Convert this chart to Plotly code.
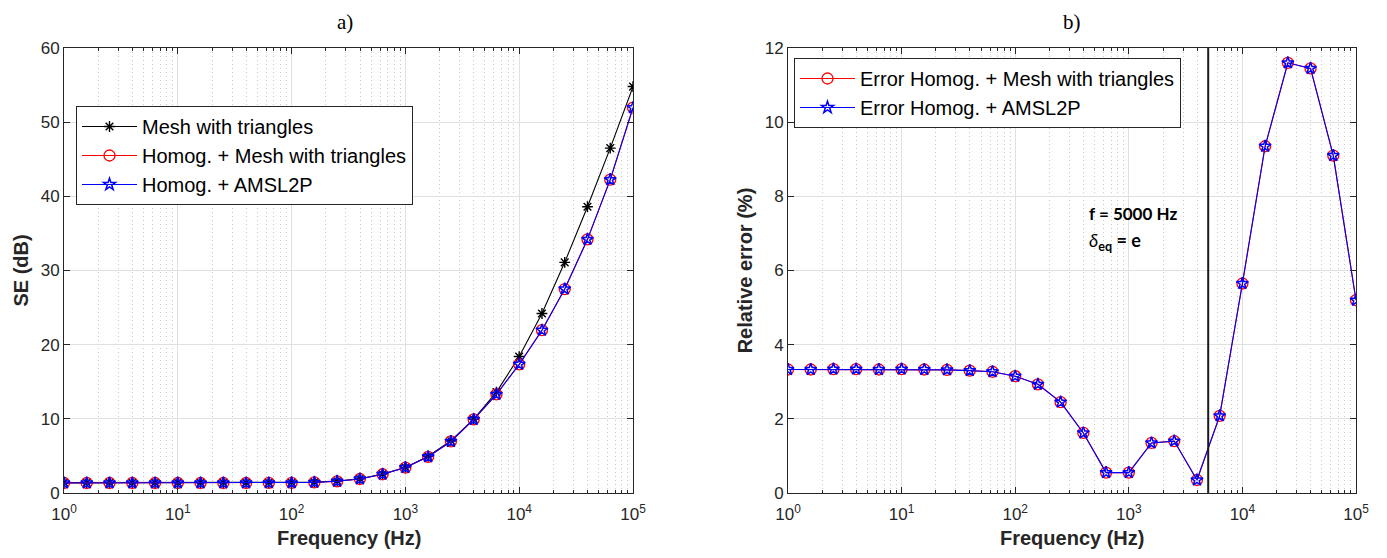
import plotly.graph_objects as go

# ---- data ----
freq = [1, 1.585, 2.512, 3.981, 6.310, 10, 15.85, 25.12, 39.81, 63.10,
        100, 158.5, 251.2, 398.1, 631.0, 1000, 1585, 2512, 3981, 6310,
        10000, 15849, 25119, 39811, 63096, 100000]

se_mesh = [1.40, 1.40, 1.40, 1.40, 1.40, 1.40, 1.40, 1.40, 1.40, 1.41,
           1.42, 1.47, 1.62, 1.92, 2.55, 3.45, 4.95, 7.05, 9.95, 13.6,
           18.4, 24.2, 31.1, 38.6, 46.5, 54.8]
se_homog_mesh = [1.35, 1.35, 1.35, 1.35, 1.35, 1.35, 1.35, 1.35, 1.35, 1.36,
                 1.37, 1.43, 1.58, 1.89, 2.53, 3.43, 4.88, 6.95, 9.92, 13.3,
                 17.35, 21.95, 27.5, 34.2, 42.25, 51.95]
se_homog_amsl = se_homog_mesh[:]

err_mesh = [3.33, 3.33, 3.34, 3.34, 3.33, 3.34, 3.33, 3.32, 3.30, 3.27,
            3.15, 2.93, 2.45, 1.62, 0.55, 0.55, 1.35, 1.40, 0.35, 2.08,
            5.65, 9.35, 11.60, 11.45, 9.10, 5.20]
err_amsl = err_mesh[:]

f_ref = 5000
err_line = [0, 12]

decade_vals = [1, 10, 100, 1000, 10000, 100000]
decade_text = ["10<sup>0</sup>", "10<sup>1</sup>", "10<sup>2</sup>",
               "10<sup>3</sup>", "10<sup>4</sup>", "10<sup>5</sup>"]
minor_vals = [m * d for d in [1, 10, 100, 1000, 10000] for m in range(2, 10)]

# ---- style ----
AX = "#262626"
GRID = "#e0e0e0"
MINGRID = "#c8c8c8"
TICKFONT = dict(family="Liberation Sans, Arial", size=17, color=AX)
YTITLEFONT = dict(family="Liberation Sans, Arial", size=20, color=AX)
XTITLEFONT = dict(family="Liberation Sans, Arial", size=20, color=AX)
LEGFONT = dict(family="Liberation Sans, Arial", size=20, color="black")

fig = go.Figure()


def circle_marker():
    return dict(symbol="circle-open", color="red", size=11, line=dict(color="red", width=1.3))


def star_marker():
    return dict(symbol="star-open", color="blue", size=9, line=dict(color="blue", width=1.5))


fig.add_trace(go.Scatter(x=freq, y=se_mesh, mode="lines+markers", name="Mesh with triangles",
                         line=dict(color="black", width=1.1),
                         marker=dict(symbol="asterisk-open", color="black", size=9,
                                     line=dict(color="black", width=1.4)),
                         xaxis="x", yaxis="y", legend="legend"))
fig.add_trace(go.Scatter(x=freq, y=se_homog_mesh, mode="lines+markers",
                         name="Homog. + Mesh with triangles",
                         line=dict(color="red", width=1.1), marker=circle_marker(),
                         xaxis="x", yaxis="y", legend="legend"))
fig.add_trace(go.Scatter(x=freq, y=se_homog_amsl, mode="lines+markers",
                         name="Homog. + AMSL2P",
                         line=dict(color="blue", width=1.1), marker=star_marker(),
                         xaxis="x", yaxis="y", legend="legend"))

fig.add_trace(go.Scatter(x=freq, y=err_mesh, mode="lines+markers",
                         name="Error Homog. + Mesh with triangles",
                         line=dict(color="red", width=1.1), marker=circle_marker(),
                         xaxis="x2", yaxis="y2", legend="legend2"))
fig.add_trace(go.Scatter(x=freq, y=err_amsl, mode="lines+markers",
                         name="Error Homog. + AMSL2P",
                         line=dict(color="blue", width=1.1), marker=star_marker(),
                         xaxis="x2", yaxis="y2", legend="legend2"))
fig.add_trace(go.Scatter(x=[f_ref, f_ref], y=err_line, mode="lines",
                         line=dict(color="#1a1a1a", width=2), showlegend=False,
                         hoverinfo="skip", xaxis="x2", yaxis="y2"))

OFF = 8  # default page body margin
W, H = 1387 - 2 * OFF, 558 - 2 * OFF
L1, R1 = 64, 633
L2, R2 = 788, 1356
TOP, BOT = 48, 493


def px(x):
    return (x - OFF) / W


def py(y):
    return 1 - (y - OFF) / H


def xaxis_cfg(dom, anchor):
    return dict(type="log", domain=dom, anchor=anchor, range=[0, 5], automargin=False,
                tickvals=decade_vals, ticktext=decade_text, tickfont=TICKFONT,
                ticks="inside", ticklen=6, tickcolor=AX, mirror="allticks",
                ticklabelstandoff=6,
                showline=True, linecolor=AX, linewidth=1,
                showgrid=True, gridcolor=GRID, gridwidth=1, zeroline=False,
                minor=dict(tickvals=minor_vals, ticks="inside", ticklen=3, tickcolor=AX,
                           showgrid=True, gridcolor=MINGRID, griddash="1px,3px", gridwidth=1))


def yaxis_cfg(anchor, rng, dt, title):
    return dict(domain=[py(BOT), py(TOP)], anchor=anchor, range=rng, dtick=dt, automargin=False,
                tickfont=TICKFONT, ticks="inside", ticklen=6, tickcolor=AX,
                mirror="allticks", showline=True, linecolor=AX, linewidth=1,
                showgrid=True, gridcolor=GRID, gridwidth=1, zeroline=False,
                title=dict(text="<b>" + title + "</b>", font=YTITLEFONT, standoff=6))


def label(text, x, y, font, xanchor="center"):
    return dict(text=text, x=px(x), y=py(y), xref="paper", yref="paper",
                xanchor=xanchor, yanchor="middle", showarrow=False, font=font)


SERIF = dict(family="Liberation Serif, Times New Roman", size=21, color="black")
NOTE = dict(family="Lato, Open Sans", size=17, color="black")

fig.update_layout(
    width=W, height=H, autosize=False,
    margin=dict(l=0, r=0, t=0, b=0, autoexpand=False),
    paper_bgcolor="white", plot_bgcolor="white",
    xaxis=xaxis_cfg([px(L1), px(R1)], "y"),
    yaxis=yaxis_cfg("x", [0, 60], 10, "SE (dB)"),
    xaxis2=xaxis_cfg([px(L2), px(R2)], "y2"),
    yaxis2=yaxis_cfg("x2", [0, 12], 2, "Relative error (%)"),
    legend=dict(x=px(76), y=py(106), xanchor="left", yanchor="top",
                bgcolor="white", bordercolor=AX, borderwidth=1, font=LEGFONT,
                tracegroupgap=0, itemwidth=55),
    legend2=dict(x=px(794), y=py(58), xanchor="left", yanchor="top",
                 bgcolor="white", bordercolor=AX, borderwidth=1, font=LEGFONT,
                 tracegroupgap=0, itemwidth=55),
    annotations=[
        label("a)", 345, 22, SERIF),
        label("b)", (L2 + R2) / 2, 22, SERIF),
        label("<b>Frequency (Hz)</b>", (L1 + R1) / 2, 538, XTITLEFONT),
        label("<b>Frequency (Hz)</b>", (L2 + R2) / 2, 538, XTITLEFONT),
        label("<b>f = 5000 Hz</b>", 1087, 213, NOTE, "left"),
        label("<i>δ</i><sub><b>eq</b></sub><b> = e</b>", 1087, 242,
              dict(family="Lato, Open Sans", size=18, color="black"), "left"),
    ],
)

fig.write_html("out.html")
